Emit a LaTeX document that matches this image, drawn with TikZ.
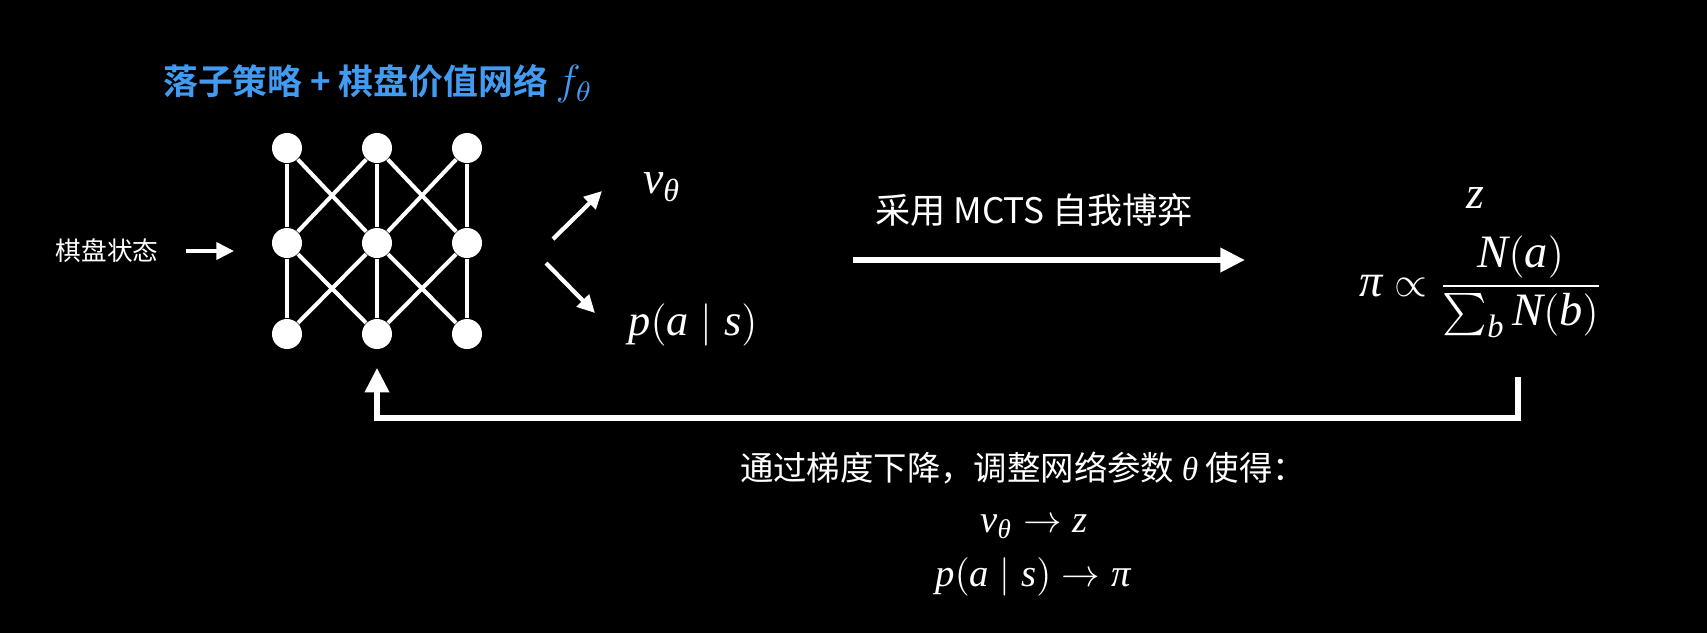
\documentclass[tikz,border=0pt]{standalone}
\usepackage{amsmath}
\usepackage{fontspec}
\newfontfamily\cjk[BoldFont={Noto Sans CJK SC Bold}]{Noto Sans CJK SC}
\newfontfamily\tmsfont{Liberation Serif}[NFSSFamily=tms]
\DeclareSymbolFont{tmsit}{TU}{tms}{m}{it}
\DeclareSymbolFont{tmsup}{TU}{tms}{m}{n}
\Umathcode`a = 7 \symtmsit `a
\Umathcode`b = 7 \symtmsit `b
\Umathcode`p = 7 \symtmsit `p
\Umathcode`s = 7 \symtmsit `s
\Umathcode`v = 7 \symtmsit `v
\Umathcode`z = 7 \symtmsit `z
\Umathcode`N = 7 \symtmsit `N
\Umathcode`( = 4 \symtmsup `(
\Umathcode`) = 5 \symtmsup `)
\Umathchardef\thetaT = 0 \symtmsit "03B8
\Umathchardef\piT = 0 \symtmsit "03C0
\usetikzlibrary{arrows.meta}
\definecolor{netblue}{RGB}{66,155,240}
\def\bigmath{\fontsize{12.6pt}{15pt}\selectfont}
\def\smallmath{\fontsize{11pt}{13pt}\selectfont}
\tikzset{
  unit/.style={circle,fill=white,inner sep=0pt,minimum size=0.3cm},
  link/.style={white,line width=1.15pt},
  flow/.style={white,line width=1.7pt,-{Triangle[length=7pt,width=6.6pt]}},
  thinflow/.style={white,line width=1.1pt,-{Triangle[length=5pt,width=4.8pt]}},
  txt/.style={text=white,inner sep=0pt},
}

\begin{document}
\begin{tikzpicture}[x=0.01cm,y=-0.01cm]
  \fill[black] (0,0) rectangle (1707,633);
  \useasboundingbox (0,0) rectangle (1707,633);

  \node[text=netblue,inner sep=0pt,font=\cjk\bfseries\fontsize{9.9pt}{11pt}\selectfont] (title) at (378,84) {落子策略 + 棋盘价值网络 {\fontsize{12pt}{12pt}\selectfont$f_\theta$}};

  %the network: three layers of three units
  \foreach \c/\x in {1/287,2/377,3/467}
    \foreach \r/\y in {1/148,2/243,3/334}
      \node[unit] (n\r\c) at (\x,\y) {};
  \foreach \r/\s in {1/2,2/3}
    \foreach \a/\b in {1/1,2/2,3/3,1/2,2/1,2/3,3/2}
      \draw[link] (n\r\a) -- (n\s\b);

  %input
  \node[txt,font=\cjk\fontsize{7.3pt}{8pt}\selectfont] (state) at (107,251) {棋盘状态};
  \coordinate (netin) at (234,251);
  \draw[thinflow] ([xshift=0.27cm]state.east) -- (netin);

  %outputs
  \coordinate (vfrom) at (553,239);
  \coordinate (vto) at (602,191);
  \coordinate (pfrom) at (546,263);
  \coordinate (pto) at (595,313);
  \draw[thinflow,line width=1.2pt] (vfrom) -- (vto);
  \draw[thinflow,line width=1.2pt] (pfrom) -- (pto);
  \node[txt,font=\fontsize{13pt}{15pt}\selectfont] (value) at (662,187) {$v_\thetaT$};
  \node[txt,font=\bigmath] (policy) at (693,325) {$p(a\mid s)$};

  %self play
  \node[txt,font=\cjk\fontsize{10pt}{12pt}\selectfont] (selfplay) at (1034,210) {采用 MCTS 自我博弈};
  \coordinate (mctsA) at (853,260);
  \coordinate (mctsB) at (1245,260);
  \draw[flow] (mctsA) -- (mctsB);

  \node[txt,font=\fontsize{13pt}{15pt}\selectfont] (result) at (1475,198) {$z$};
  \node[txt,font=\fontsize{13.2pt}{16pt}\selectfont] (visits) at (1481,287) {$\piT\mathrel{\propto}\dfrac{N(a)}{\sum_b N(b)}$};

  %training loop back to the network
  \coordinate (fb) at (1518,377);
  \coordinate (low) at (377,418);
  \draw[flow] (fb) |- (low) -- ([yshift=-0.18cm]n32.south);

  \node[txt,font=\cjk\fontsize{9.5pt}{11pt}\selectfont] (rule) at (1023,468) {通过梯度下降，调整网络参数 $\thetaT$ 使得：};
  \node[txt,font=\smallmath] (goalv) at (1034,527) {$v_\thetaT \rightarrow z$};
  \node[txt,font=\smallmath] (goalp) at (1033,577) {$p(a\mid s) \rightarrow \piT$};
\end{tikzpicture}
\end{document}
